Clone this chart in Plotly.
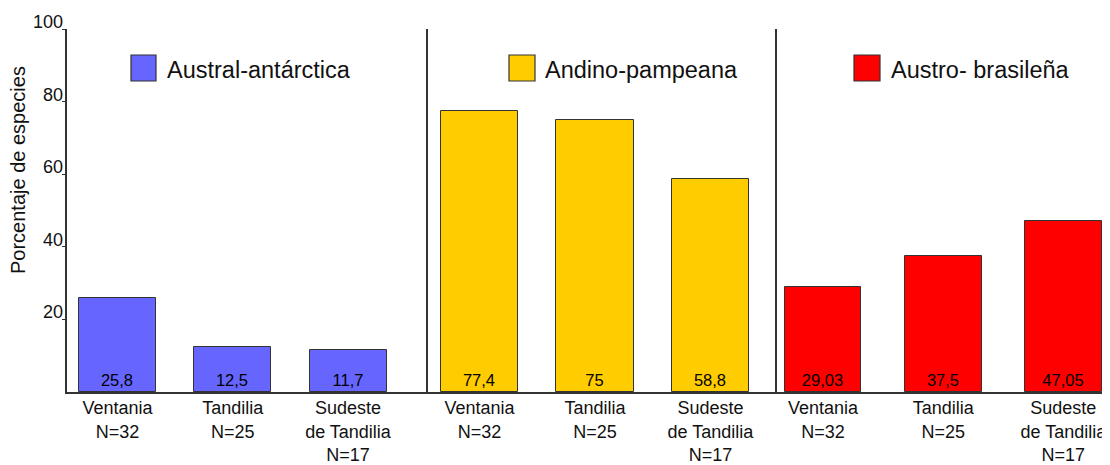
import plotly.graph_objects as go

categories = ["Ventania<br>N=32", "Tandilia<br>N=25", "Sudeste<br>de Tandilia<br>N=17"]
groups = ["Austral-antárctica", "Andino-pampeana", "Austro- brasileña"]
austral = [25.8, 12.5, 11.7]
andino = [77.4, 75, 58.8]
austro = [29.03, 37.5, 47.05]
y_ticks = [20, 40, 60, 80, 100]
y_title = "Porcentaje de especies"

series = [austral, andino, austro]
colors = ["#6666FF", "#FFCC00", "#FF0000"]
FONT = "Liberation Sans, Arial, sans-serif"
LINE = "#333333"

# the page body adds an 8px offset; lay out in screen pixels and compensate
OFF = 8
W, H = 1110 - OFF, 465 - OFF
PLOT_L, PLOT_R, PLOT_T, PLOT_B = 67, 1103, 29, 392   # screen pixels
ML, MR = PLOT_L - OFF, W - (PLOT_R - OFF)
MT, MB = PLOT_T - OFF, H - (PLOT_B - OFF)
PW = PLOT_R - PLOT_L
PH = PLOT_B - PLOT_T

def px_x(p):
    return (p - PLOT_L) / PW

def px_y(p):
    return (PLOT_B - p) / PH

domains = [[0, px_x(428)], [px_x(428), px_x(777)], [px_x(777), 1]]
ranges = [[-0.438, 2.694], [-0.446, 2.576], [-0.383, 2.33]]
widths = [0.668, 0.667, 0.64]

fig = go.Figure()
for i, vals in enumerate(series):
    sfx = "" if i == 0 else str(i + 1)
    fig.add_trace(go.Bar(
        x=categories, y=vals,
        xaxis="x" + sfx, yaxis="y" + sfx,
        width=widths[i],
        marker=dict(color=colors[i], line=dict(color=LINE, width=1)),
        text=[f"{v:g}".replace(".", ",") for v in vals],
        textposition="inside", insidetextanchor="start", textangle=0,
        textfont=dict(size=16.5, color="black", family=FONT),
        showlegend=False, hoverinfo="skip",
    ))
    fig.layout["xaxis" + sfx] = dict(
        domain=domains[i], anchor="y" + sfx, type="category", range=ranges[i],
        showline=True, linecolor=LINE, linewidth=1.5, ticks="",
        showgrid=False, zeroline=False, automargin=False,
        ticklabelstandoff=-1,
        tickfont=dict(size=18, color="#111111", family=FONT),
    )
    fig.layout["yaxis" + sfx] = dict(
        domain=[0, 1], anchor="x" + sfx, range=[0, 100],
        showline=True, linecolor=LINE, linewidth=1.5,
        showgrid=False, zeroline=False, automargin=False,
        ticks="outside" if i == 0 else "", ticklen=3, tickcolor=LINE,
        tickvals=y_ticks if i == 0 else [], showticklabels=False,
    )

annotations = []
for t in y_ticks:
    annotations.append(dict(
        x=0, xref="paper", xanchor="right", xshift=-2,
        y=t, yref="y", yanchor="bottom", yshift=-5,
        text=str(t), showarrow=False,
        font=dict(size=18, color="#111111", family=FONT),
    ))
annotations.append(dict(
    x=px_x(18), xref="paper", xanchor="center",
    y=px_y(170), yref="paper", yanchor="middle",
    text=y_title, textangle=-90, showarrow=False,
    font=dict(size=20, color="#111111", family=FONT),
))

swatches = [(131, 156, 165), (509, 535, 543), (854, 880, 889)]
shapes = []
for i, (x0, x1, tx) in enumerate(swatches):
    shapes.append(dict(
        type="rect", xref="paper", yref="paper",
        x0=px_x(x0), x1=px_x(x1), y0=px_y(81), y1=px_y(55),
        fillcolor=colors[i], line=dict(color=LINE, width=1.2),
    ))
    annotations.append(dict(
        x=px_x(tx), xref="paper", xanchor="left",
        y=px_y(70), yref="paper", yanchor="middle",
        text=groups[i], showarrow=False,
        font=dict(size=23.5, color="#111111", family=FONT),
    ))

fig.update_layout(
    width=W, height=H,
    margin=dict(l=ML, r=MR, t=MT, b=MB, autoexpand=False),
    paper_bgcolor="white", plot_bgcolor="white",
    annotations=annotations, shapes=shapes,
    bargap=0, showlegend=False,
)

fig.write_html("out.html")
